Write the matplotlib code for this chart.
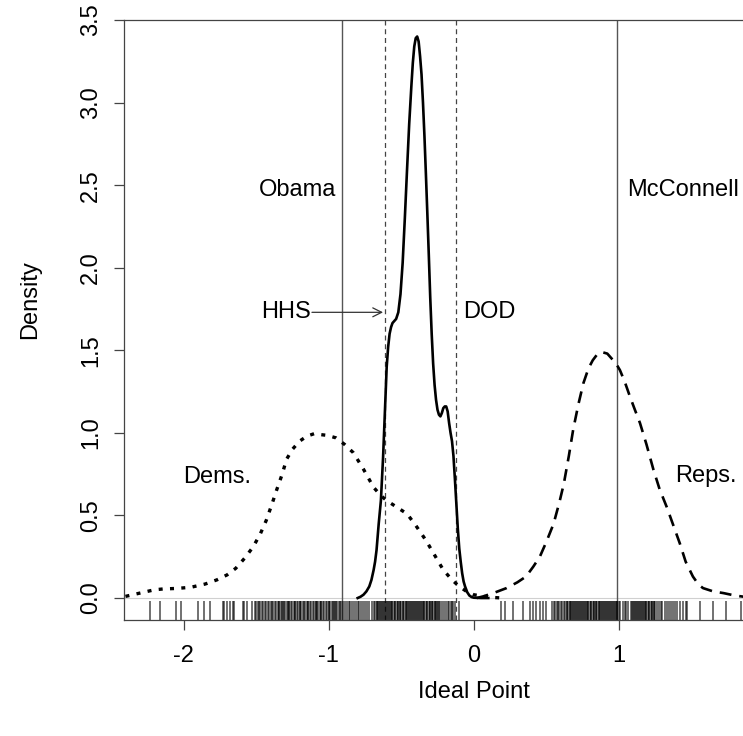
import matplotlib.pyplot as plt
import matplotlib as mpl

mpl.rcParams['font.family'] = ['Liberation Sans', 'DejaVu Sans']

# Density curves (x = ideal point, y = density)
dems_x = [-2.40, -2.30, -2.20, -2.14, -2.05, -1.95, -1.85, -1.77, -1.70, -1.64,
          -1.58, -1.52, -1.47, -1.43, -1.39, -1.36, -1.32, -1.29, -1.25, -1.20,
          -1.15, -1.10, -1.06, -1.01, -0.95, -0.89, -0.83, -0.76, -0.69, -0.64,
          -0.60, -0.53, -0.46, -0.40, -0.33, -0.27, -0.21, -0.15, -0.10, -0.05,
          0.00, 0.10, 0.20]
dems_y = [0.01, 0.03, 0.05, 0.055, 0.058, 0.065, 0.085, 0.11, 0.14, 0.18,
          0.24, 0.31, 0.39, 0.47, 0.57, 0.65, 0.75, 0.84, 0.90, 0.95,
          0.98, 0.995, 0.99, 0.985, 0.97, 0.93, 0.88, 0.78, 0.67, 0.62,
          0.59, 0.55, 0.51, 0.44, 0.35, 0.26, 0.17, 0.11, 0.07, 0.04,
          0.02, 0.005, 0.0]

admin_x = [-0.80, -0.78, -0.76, -0.74, -0.72, -0.705, -0.69, -0.68, -0.67, -0.655,
           -0.64, -0.625, -0.61, -0.60, -0.59, -0.58, -0.57, -0.56, -0.55, -0.535,
           -0.52, -0.505, -0.49, -0.475, -0.46, -0.445, -0.43, -0.42, -0.41, -0.40,
           -0.39, -0.38, -0.37, -0.36, -0.35, -0.34, -0.33, -0.32, -0.31, -0.30,
           -0.29, -0.28, -0.27, -0.26, -0.25, -0.24, -0.23, -0.22, -0.21, -0.20,
           -0.19, -0.18, -0.17, -0.16, -0.15, -0.14, -0.13, -0.12, -0.11, -0.10,
           -0.09, -0.08, -0.07, -0.06, -0.045, -0.03, -0.015, 0.00, 0.05, 0.10]
admin_y = [0.0, 0.008, 0.02, 0.04, 0.07, 0.11, 0.17, 0.22, 0.29, 0.45,
           0.59, 0.85, 1.18, 1.40, 1.52, 1.60, 1.64, 1.665, 1.675, 1.69,
           1.73, 1.84, 2.03, 2.30, 2.59, 2.87, 3.10, 3.24, 3.34, 3.39,
           3.40, 3.37, 3.28, 3.17, 3.00, 2.80, 2.57, 2.33, 2.08, 1.82,
           1.60, 1.42, 1.29, 1.20, 1.14, 1.11, 1.10, 1.12, 1.15, 1.16,
           1.16, 1.13, 1.06, 1.00, 0.95, 0.86, 0.72, 0.57, 0.42, 0.30,
           0.22, 0.15, 0.10, 0.07, 0.035, 0.015, 0.006, 0.002, 0.0, 0.0]

reps_x = [0.02, 0.065, 0.15, 0.225, 0.30, 0.36, 0.41, 0.455, 0.50, 0.55,
          0.59, 0.62, 0.655, 0.685, 0.72, 0.755, 0.79, 0.82, 0.85, 0.88,
          0.92, 0.95, 0.98, 1.007, 1.04, 1.076, 1.11, 1.145, 1.19, 1.237,
          1.28, 1.33, 1.375, 1.42, 1.46, 1.51, 1.55, 1.58, 1.65, 1.72,
          1.80, 1.86]
reps_y = [0.0, 0.01, 0.035, 0.06, 0.095, 0.13, 0.19, 0.25, 0.34, 0.45,
          0.58, 0.69, 0.86, 1.02, 1.17, 1.30, 1.39, 1.44, 1.475, 1.49,
          1.48, 1.45, 1.42, 1.38, 1.31, 1.22, 1.14, 1.06, 0.93, 0.78,
          0.66, 0.55, 0.44, 0.33, 0.22, 0.13, 0.08, 0.06, 0.04, 0.03,
          0.015, 0.008]

# Rug of ideal points (estimated positions)
rug_x = [
    -2.23, -2.16, -2.05, -2.02, -1.90, -1.86, -1.82, -1.73, -1.72, -1.70,
    -1.68, -1.66, -1.65, -1.59, -1.58, -1.56,
    -1.53, -1.51, -1.50, -1.49, -1.48, -1.47, -1.46, -1.45, -1.44, -1.43,
    -1.42, -1.41, -1.40, -1.39, -1.38, -1.37,
    -1.36, -1.35, -1.345, -1.34, -1.33, -1.32, -1.315, -1.31, -1.30, -1.29,
    -1.28, -1.275, -1.27, -1.26, -1.25, -1.24, -1.235, -1.23, -1.22, -1.21,
    -1.20, -1.195, -1.19, -1.18, -1.17, -1.16, -1.15, -1.145, -1.14, -1.13,
    -1.12, -1.11, -1.10, -1.09, -1.085, -1.08, -1.07, -1.06, -1.055, -1.05,
    -1.04, -1.03, -1.02, -1.01, -1.00, -0.995, -0.99, -0.98, -0.97, -0.96,
    -0.955, -0.95, -0.94, -0.93, -0.925,
    -0.915, -0.90, -0.89, -0.875, -0.86, -0.85, -0.84, -0.825, -0.81, -0.80,
    -0.79, -0.78, -0.765, -0.75, -0.735, -0.72, -0.70, -0.69, -0.68,
    -0.67, -0.665, -0.66, -0.65, -0.645, -0.64, -0.63, -0.625, -0.62, -0.61,
    -0.605, -0.60, -0.59, -0.585, -0.58, -0.57, -0.565, -0.56, -0.55, -0.545,
    -0.54, -0.53, -0.525, -0.52, -0.51, -0.505, -0.50, -0.49, -0.485, -0.48,
    -0.47, -0.465, -0.46, -0.45, -0.445, -0.44, -0.43, -0.425, -0.42, -0.41,
    -0.405, -0.40, -0.39, -0.385, -0.38, -0.37, -0.365, -0.36, -0.35, -0.345,
    -0.34, -0.33, -0.325, -0.32, -0.31, -0.305, -0.30, -0.29, -0.285, -0.28,
    -0.27, -0.265, -0.26, -0.25, -0.245, -0.24,
    -0.23, -0.22, -0.205, -0.19, -0.18, -0.17, -0.16, -0.15, -0.14, -0.13,
    -0.10,
    0.19, 0.214, 0.267, 0.336, 0.386, 0.41, 0.43, 0.455, 0.48, 0.50,
    0.536, 0.55, 0.56, 0.57, 0.58, 0.59, 0.60, 0.61, 0.62, 0.63,
    0.64, 0.645, 0.65, 0.66, 0.665, 0.67, 0.68, 0.685, 0.69, 0.70,
    0.705, 0.71, 0.72, 0.725, 0.73, 0.74, 0.745, 0.75, 0.76, 0.765,
    0.77, 0.78, 0.785, 0.79, 0.80, 0.805, 0.81, 0.82, 0.825, 0.83,
    0.84, 0.845, 0.85, 0.86, 0.865, 0.87, 0.88, 0.885, 0.89, 0.90,
    0.905, 0.91, 0.92, 0.925, 0.93, 0.94, 0.945, 0.95, 0.96, 0.965,
    0.97, 0.98, 0.985, 0.99, 1.00,
    1.01, 1.025, 1.04, 1.05, 1.065, 1.08, 1.09,
    1.10, 1.105, 1.11, 1.12, 1.125, 1.13, 1.14, 1.145, 1.15, 1.16,
    1.165, 1.17, 1.18, 1.185, 1.19, 1.20, 1.205, 1.21, 1.22, 1.225,
    1.23, 1.24, 1.245, 1.25, 1.26,
    1.275, 1.29, 1.30, 1.315, 1.33, 1.345, 1.36, 1.37, 1.385, 1.40,
    1.42, 1.44, 1.46, 1.47,
    1.56, 1.65, 1.74, 1.84,
]

# Reference lines
obama_x = -0.91
mcconnell_x = 0.99
hhs_x = -0.61
dod_x = -0.12

fig = plt.figure(figsize=(7.43, 7.36), dpi=100)
ax = fig.add_axes([124 / 743, (736 - 620) / 736, 1 - 124 / 743, 600 / 736])

ax.axhline(0, color='#d0d0d0', lw=0.8, zorder=1)
ax.vlines(rug_x, -0.133, -0.018, color='black', alpha=0.6, lw=1.3, zorder=2)

ax.axvline(obama_x, color='#555555', lw=1.0, zorder=1)
ax.axvline(mcconnell_x, color='#555555', lw=1.0, zorder=1)
ax.axvline(hhs_x, color='#444444', lw=0.9, ls=(0, (4, 3)), zorder=1)
ax.axvline(dod_x, color='#444444', lw=0.9, ls=(0, (4, 3)), zorder=1)

ax.plot(dems_x, dems_y, color='black', lw=2.4, ls=(0, (1.2, 2.2)), zorder=3)
ax.plot(admin_x, admin_y, color='black', lw=1.9, zorder=3)
ax.plot(reps_x, reps_y, color='black', lw=1.9, ls=(0, (4.5, 3)), zorder=3)

fs = 17
ax.text(-0.95, 2.47, 'Obama', ha='right', va='center', fontsize=fs)
ax.text(1.055, 2.47, 'McConnell', ha='left', va='center', fontsize=fs)
ax.text(-1.125, 1.73, 'HHS', ha='right', va='center', fontsize=fs)
ax.text(-0.075, 1.73, 'DOD', ha='left', va='center', fontsize=fs)
ax.text(-1.77, 0.73, 'Dems.', ha='center', va='center', fontsize=fs)
ax.text(1.60, 0.74, 'Reps.', ha='center', va='center', fontsize=fs)
ax.annotate('', xy=(-0.625, 1.73), xytext=(-1.115, 1.73),
            arrowprops=dict(arrowstyle='->', color='#333333', lw=0.9,
                            mutation_scale=16, shrinkA=0, shrinkB=0))

ax.set_xlim(-2.41, 1.855)
ax.set_ylim(-0.133, 3.5)
ax.set_xticks([-2, -1, 0, 1])
ax.set_xticklabels(['-2', '-1', '0', '1'])
ax.set_yticks([0.0, 0.5, 1.0, 1.5, 2.0, 2.5, 3.0, 3.5])
ax.set_yticklabels(['0.0', '0.5', '1.0', '1.5', '2.0', '2.5', '3.0', '3.5'],
                   rotation=90, va='center')
ax.tick_params(axis='both', direction='out', length=7, width=0.9,
               color='#444444', labelsize=fs)
ax.tick_params(axis='x', pad=11)
ax.tick_params(axis='y', pad=9)
ax.spines['right'].set_visible(False)
for s in ['left', 'top', 'bottom']:
    ax.spines[s].set_color('#444444')
    ax.spines[s].set_linewidth(0.9)

fig.text(30 / 743, 1 - 300 / 736, 'Density', rotation=90, ha='center',
         va='center', fontsize=fs)
fig.text(474 / 743, 1 - 692 / 736, 'Ideal Point', ha='center', va='center',
         fontsize=fs)

fig.savefig('out.png', dpi=100)
